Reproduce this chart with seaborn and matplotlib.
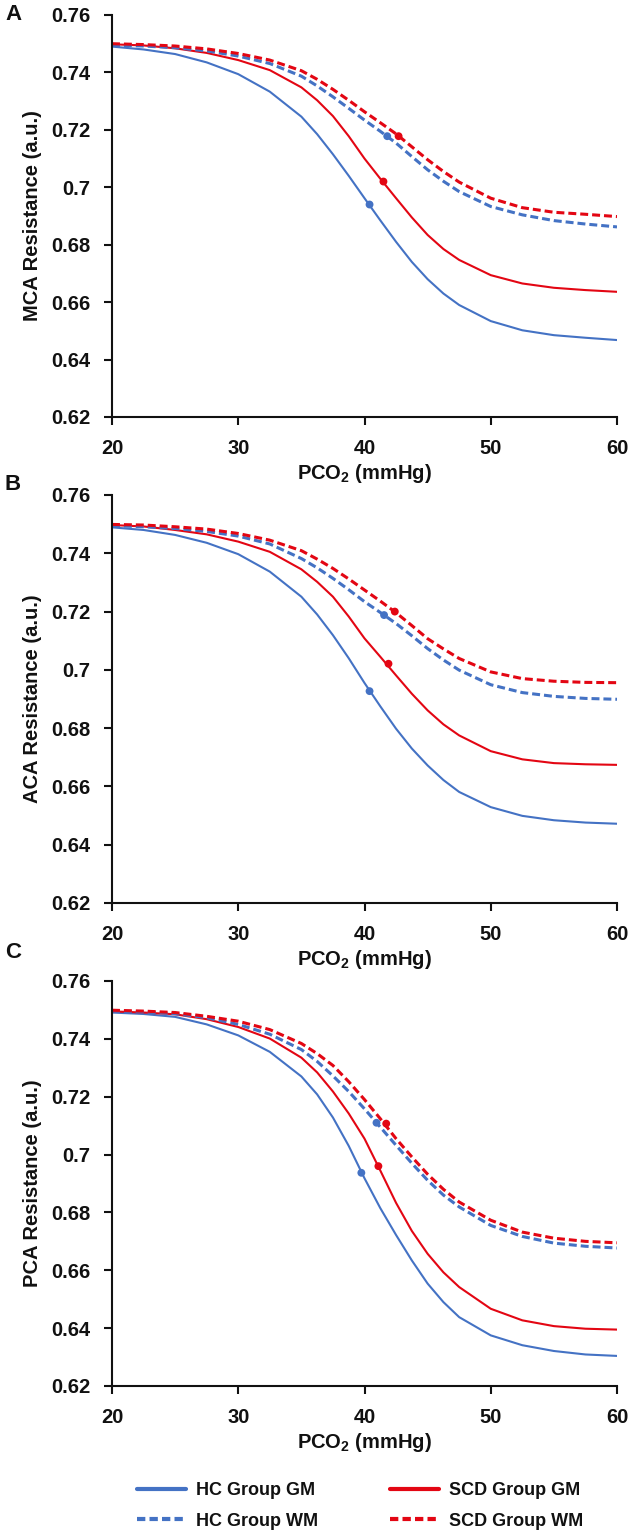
import matplotlib
matplotlib.use("Agg")
import matplotlib.pyplot as plt
from matplotlib.lines import Line2D
import numpy as np
import pandas as pd
import seaborn as sns

sns.set_theme(style="ticks")
FONT = ["Liberation Sans", "DejaVu Sans"]
plt.rcParams["font.family"] = FONT
plt.rcParams["font.weight"] = "bold"
plt.rcParams["mathtext.fontset"] = "custom"
plt.rcParams["mathtext.bf"] = "Liberation Sans:bold"
plt.rcParams["mathtext.rm"] = "Liberation Sans:bold"

# ---------------- data ----------------
pco2 = [20, 22.5, 25, 27.5, 30, 32.5, 35, 36.25, 37.5, 38.75, 40, 41.25, 42.5,
        43.75, 45, 46.25, 47.5, 50, 52.5, 55, 57.5, 60]
series_names = ["HC Group GM", "SCD Group GM", "HC Group WM", "SCD Group WM"]
panel_letters = ["A", "B", "C"]
ylabels = ["MCA Resistance (a.u.)", "ACA Resistance (a.u.)", "PCA Resistance (a.u.)"]
yticks = [0.62, 0.64, 0.66, 0.68, 0.70, 0.72, 0.74, 0.76]
ytick_labels = ["0.62", "0.64", "0.66", "0.68", "0.7", "0.72", "0.74", "0.76"]
xticks = [20, 30, 40, 50, 60]

# Panel A (MCA)
mca_hc_gm = [0.7490, 0.7480, 0.7464, 0.7435, 0.7394, 0.7333, 0.7246, 0.7185, 0.7115, 0.7040, 0.6962, 0.6885,
             0.6810, 0.6740, 0.6680, 0.6630, 0.6590, 0.6534, 0.6502, 0.6485, 0.6476, 0.6468]
mca_scd_gm = [0.7498, 0.7494, 0.7484, 0.7468, 0.7443, 0.7408, 0.7348, 0.7303, 0.7248, 0.7178, 0.7100, 0.7030,
              0.6962, 0.6895, 0.6834, 0.6785, 0.6747, 0.6694, 0.6665, 0.6650, 0.6642, 0.6636]
mca_hc_wm = [0.7495, 0.7492, 0.7486, 0.7475, 0.7457, 0.7431, 0.7387, 0.7353, 0.7315, 0.7275, 0.7234, 0.7195,
             0.7154, 0.7107, 0.7061, 0.7021, 0.6985, 0.6933, 0.6904, 0.6884, 0.6872, 0.6862]
mca_scd_wm = [0.7500, 0.7497, 0.7492, 0.7482, 0.7466, 0.7443, 0.7406, 0.7376, 0.7341, 0.7303, 0.7263, 0.7225,
              0.7186, 0.7141, 0.7096, 0.7055, 0.7018, 0.6962, 0.6929, 0.6913, 0.6906, 0.6898]
mca_mark_x = [40.4, 41.5, 41.8, 42.7]
mca_mark_y = [0.6940, 0.7020, 0.7178, 0.7178]

# Panel B (ACA)
aca_hc_gm = [0.7489, 0.7480, 0.7463, 0.7436, 0.7397, 0.7337, 0.7251, 0.7190, 0.7119, 0.7040, 0.6955, 0.6875,
             0.6798, 0.6730, 0.6672, 0.6622, 0.6581, 0.6529, 0.6499, 0.6484, 0.6476, 0.6472]
aca_scd_gm = [0.7497, 0.7492, 0.7480, 0.7465, 0.7440, 0.7405, 0.7345, 0.7302, 0.7251, 0.7183, 0.7108, 0.7045,
              0.6981, 0.6918, 0.6861, 0.6813, 0.6775, 0.6721, 0.6693, 0.6680, 0.6676, 0.6674]
aca_hc_wm = [0.7495, 0.7491, 0.7485, 0.7475, 0.7459, 0.7432, 0.7382, 0.7350, 0.7314, 0.7275, 0.7234, 0.7197,
             0.7159, 0.7117, 0.7073, 0.7034, 0.6999, 0.6949, 0.6922, 0.6909, 0.6902, 0.6899]
aca_scd_wm = [0.7499, 0.7497, 0.7491, 0.7483, 0.7468, 0.7445, 0.7409, 0.7380, 0.7348, 0.7312, 0.7274, 0.7236,
              0.7196, 0.7152, 0.7107, 0.7072, 0.7039, 0.6993, 0.6970, 0.6961, 0.6957, 0.6956]
aca_mark_x = [40.4, 41.9, 41.55, 42.4]
aca_mark_y = [0.6927, 0.7021, 0.7188, 0.7200]

# Panel C (PCA)
pca_hc_gm = [0.7491, 0.7486, 0.7476, 0.7450, 0.7412, 0.7355, 0.7270, 0.7208, 0.7128, 0.7030, 0.6918, 0.6815,
             0.6722, 0.6634, 0.6554, 0.6490, 0.6438, 0.6375, 0.6341, 0.6321, 0.6309, 0.6304]
pca_scd_gm = [0.7495, 0.7491, 0.7485, 0.7468, 0.7441, 0.7401, 0.7335, 0.7284, 0.7218, 0.7142, 0.7055, 0.6945,
              0.6833, 0.6736, 0.6657, 0.6593, 0.6542, 0.6467, 0.6427, 0.6407, 0.6398, 0.6395]
pca_hc_wm = [0.7496, 0.7493, 0.7487, 0.7473, 0.7450, 0.7416, 0.7363, 0.7322, 0.7272, 0.7218, 0.7158, 0.7095,
             0.7032, 0.6970, 0.6911, 0.6860, 0.6819, 0.6755, 0.6717, 0.6694, 0.6683, 0.6677]
pca_scd_wm = [0.7499, 0.7496, 0.7491, 0.7478, 0.7461, 0.7432, 0.7384, 0.7349, 0.7308, 0.7252, 0.7190, 0.7124,
              0.7055, 0.6992, 0.6932, 0.6880, 0.6836, 0.6773, 0.6732, 0.6711, 0.6700, 0.6695]
pca_mark_x = [39.75, 41.1, 40.95, 41.72]
pca_mark_y = [0.6937, 0.6960, 0.7110, 0.7107]

panels = [
    ([mca_hc_gm, mca_scd_gm, mca_hc_wm, mca_scd_wm], mca_mark_x, mca_mark_y),
    ([aca_hc_gm, aca_scd_gm, aca_hc_wm, aca_scd_wm], aca_mark_x, aca_mark_y),
    ([pca_hc_gm, pca_scd_gm, pca_hc_wm, pca_scd_wm], pca_mark_x, pca_mark_y),
]

# ---------------- styling ----------------
BLUE = "#4472C4"
RED = "#E30613"
INK = "#111111"
palette = {"HC Group GM": BLUE, "SCD Group GM": RED, "HC Group WM": BLUE, "SCD Group WM": RED}
dashes = {"HC Group GM": "", "SCD Group GM": "", "HC Group WM": (2.6, 1.3), "SCD Group WM": (2.6, 1.3)}
sizes = {"HC Group GM": 1.5, "SCD Group GM": 1.5, "HC Group WM": 2.2, "SCD Group WM": 2.2}

W, H = 640, 1535
fig = plt.figure(figsize=(W / 100, H / 100), dpi=100)

ax_px = [(15, 417), (495, 903), (981, 1386)]
left_px, right_px = 112, 617
letter_y = [15, 484, 952]

for i, ((curves, mx, my), (top, bot)) in enumerate(zip(panels, ax_px)):
    ax = fig.add_axes([left_px / W, 1 - bot / H, (right_px - left_px) / W, (bot - top) / H])
    df = pd.DataFrame({
        "PCO2": np.tile(pco2, 4),
        "R": np.concatenate(curves),
        "series": np.repeat(series_names, len(pco2)),
    })
    sns.lineplot(data=df, x="PCO2", y="R", hue="series", style="series", size="series",
                 palette=palette, dashes=dashes, sizes=sizes, hue_order=series_names,
                 style_order=series_names, size_order=series_names,
                 legend=False, ax=ax, estimator=None, sort=False)
    for ln in ax.get_lines():
        ln.set_solid_joinstyle("round")
        ln.set_dash_joinstyle("round")
    mdf = pd.DataFrame({"x": mx, "y": my, "series": series_names})
    sns.scatterplot(data=mdf, x="x", y="y", hue="series", palette=palette, hue_order=series_names,
                    s=32, edgecolor="none", legend=False, ax=ax, zorder=5)
    ax.set_xlim(20, 60)
    ax.set_ylim(0.62, 0.76)
    ax.set_xticks(xticks)
    ax.set_xticklabels([str(t) for t in xticks])
    ax.set_yticks(yticks)
    ax.set_yticklabels(ytick_labels)
    sns.despine(ax=ax)
    for sp in ("left", "bottom"):
        ax.spines[sp].set_linewidth(1.5)
        ax.spines[sp].set_color(INK)
    ax.tick_params(axis="both", direction="out", length=6, width=1.5, color=INK,
                   labelsize=14.5, pad=9.5, labelcolor=INK)
    for lab in ax.get_xticklabels() + ax.get_yticklabels():
        lab.set_fontweight("bold")
    ax.set_xlabel(r"PCO$_{\mathbf{2}}$ (mmHg)", fontsize=14.5, fontweight="bold", color=INK, labelpad=3)
    ax.set_ylabel(ylabels[i], fontsize=14.5, fontweight="bold", color=INK, labelpad=7)
    fig.text(5 / W, 1 - letter_y[i] / H, panel_letters[i], fontsize=16, fontweight="bold",
             ha="left", va="center", color=INK)

handles = [
    Line2D([], [], color=BLUE, lw=3.0),
    Line2D([], [], color=BLUE, lw=3.0, dashes=(2.0, 1.0)),
    Line2D([], [], color=RED, lw=3.0),
    Line2D([], [], color=RED, lw=3.0, dashes=(2.0, 1.0)),
]
labels = ["HC Group GM", "HC Group WM", "SCD Group GM", "SCD Group WM"]
fig.legend(handles, labels, ncol=2, loc="center", bbox_to_anchor=(360 / W, 1 - 1506 / H),
           frameon=False, prop={"size": 13, "weight": "bold"}, handlelength=2.7,
           handletextpad=0.55, columnspacing=4.0, labelspacing=0.75, labelcolor=INK)

fig.savefig("out.png", dpi=100)
